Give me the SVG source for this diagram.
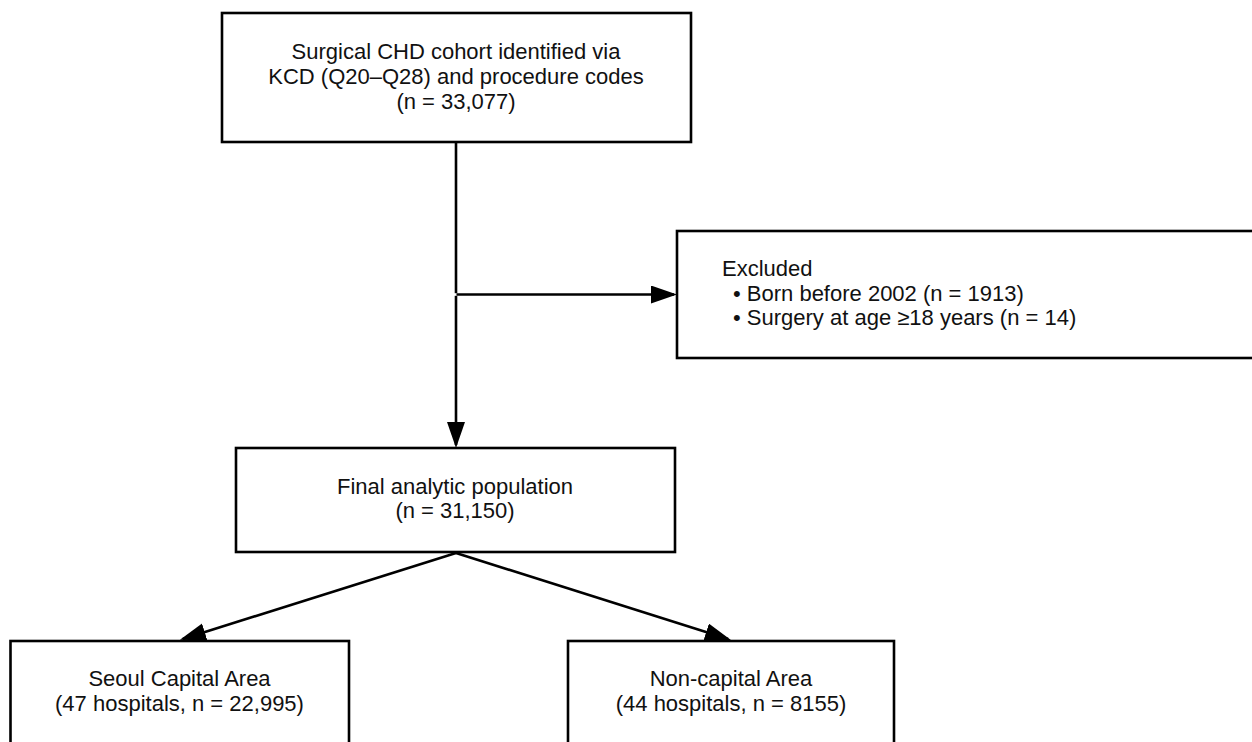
<svg xmlns="http://www.w3.org/2000/svg" width="1252" height="742" viewBox="0 0 1252 742">
<style>
.box{fill:#fff;stroke:#000;stroke-width:2.6}
.t{font-family:"Liberation Sans",Arial,sans-serif;font-size:22px;fill:#111}
.c{text-anchor:middle}
.edge{fill:none;stroke:#000;stroke-width:2.6}
</style>
<defs>
<marker id="arr" markerUnits="userSpaceOnUse" markerWidth="27" markerHeight="19" refX="23" refY="9" orient="auto">
<path d="M0,0 L26,9 L0,18 z" fill="#000"/>
</marker>
</defs>
<rect width="1252" height="742" fill="#fff"/>
<g id="connectors">
<path class="edge" d="M456,142 L456,293.2"/>
<path class="edge" d="M456,295.8 L456,445" marker-end="url(#arr)"/>
<path class="edge" d="M456.5,294.5 L674,294.5" marker-end="url(#arr)"/>
<path class="edge" d="M456,553 L182.8,638.9" marker-end="url(#arr)"/>
<path class="edge" d="M456,553 L728.1,639.1" marker-end="url(#arr)"/>
</g>
<g id="cohort">
<rect class="box" x="222" y="13" width="469" height="129"/>
<text class="t c" x="456" y="59">Surgical CHD cohort identified via</text>
<text class="t c" x="456" y="84">KCD (Q20–Q28) and procedure codes</text>
<text class="t c" x="456" y="109">(n = 33,077)</text>
</g>
<g id="excluded">
<rect class="box" x="677" y="231" width="600" height="127"/>
<text class="t" x="722" y="276">Excluded</text>
<text class="t" x="733" y="300.5">• Born before 2002 (n = 1913)</text>
<text class="t" x="733" y="325">• Surgery at age ≥18 years (n = 14)</text>
</g>
<g id="final">
<rect class="box" x="236" y="448" width="439" height="104"/>
<text class="t c" x="455" y="494">Final analytic population</text>
<text class="t c" x="455" y="518">(n = 31,150)</text>
</g>
<g id="seoul">
<rect class="box" x="10.5" y="641" width="338.5" height="110"/>
<text class="t c" x="179.5" y="686">Seoul Capital Area</text>
<text class="t c" x="179.5" y="711">(47 hospitals, n = 22,995)</text>
</g>
<g id="noncapital">
<rect class="box" x="568" y="641" width="326" height="110"/>
<text class="t c" x="731" y="686">Non-capital Area</text>
<text class="t c" x="731" y="711">(44 hospitals, n = 8155)</text>
</g>
</svg>
